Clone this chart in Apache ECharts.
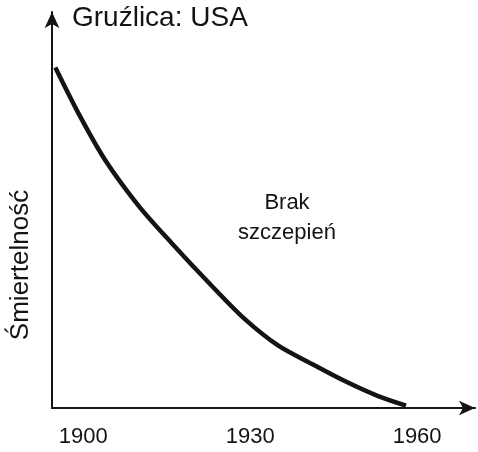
<!DOCTYPE html>
<html>
<head>
<meta charset="utf-8">
<script src="https://cdn.jsdelivr.net/npm/echarts@6/dist/echarts.min.js"></script>
<style>
  html, body { margin: 0; padding: 0; background: #fff; }
  #main { width: 478px; height: 452px; }
</style>
</head>
<body>
<div id="main"></div>
<script>
// values (mortality, arbitrary scale 0-100)
var years = [1895, 1899.5, 1904, 1910, 1916, 1923, 1929, 1935, 1941, 1947, 1953, 1958];
var deaths = [86, 73.5, 62.5, 51, 41.5, 31, 22.5, 15.8, 11.2, 6.8, 3, 0.6];
var tickYears = [1900, 1930, 1960];

var ink = '#141414';
var font = 'Liberation Sans, Arial, sans-serif';

var points = [];
for (var i = 0; i < years.length; i++) {
    points.push([years[i], deaths[i]]);
}

var chart = echarts.init(document.getElementById('main'));

var option = {
    backgroundColor: '#fff',
    animation: false,
    title: [{
        text: 'Gruźlica: USA',
        left: 72,
        top: 4,
        padding: 0,
        textStyle: { color: ink, fontSize: 28, fontWeight: 'normal', fontFamily: font }
    }, {
        text: 'Brak\nszczepień',
        left: 287,
        top: 188,
        padding: 0,
        textAlign: 'center',
        textStyle: { color: ink, fontSize: 22, fontWeight: 'normal', fontFamily: font, lineHeight: 30 }
    }],
    grid: { left: 52, right: 3, top: 12, bottom: 44 },
    xAxis: {
        type: 'value',
        min: 1894.4,
        max: 1970.4,
        axisLine: { show: true, symbol: ['none', 'arrow'], symbolSize: [11, 16], lineStyle: { color: ink, width: 2 } },
        axisTick: { show: false },
        splitLine: { show: false },
        axisLabel: {
            customValues: tickYears,
            formatter: function (v) { return String(v); },
            color: ink, fontSize: 22, fontFamily: font, margin: 18
        }
    },
    yAxis: {
        type: 'value',
        min: 0,
        max: 100,
        name: 'Śmiertelność',
        nameLocation: 'middle',
        nameRotate: 90,
        nameGap: 18,
        nameTextStyle: { color: ink, fontSize: 26, fontFamily: font, padding: [0, 110, 0, 0] },
        axisLine: { show: true, symbol: ['none', 'arrow'], symbolSize: [11, 16], lineStyle: { color: ink, width: 2 } },
        axisTick: { show: false },
        axisLabel: { show: false },
        splitLine: { show: false }
    },
    series: [{
        type: 'line',
        data: points,
        smooth: 0.3,
        symbol: 'none',
        lineStyle: { color: ink, width: 4.5 }
    }]
};

chart.setOption(option);
</script>
</body>
</html>
